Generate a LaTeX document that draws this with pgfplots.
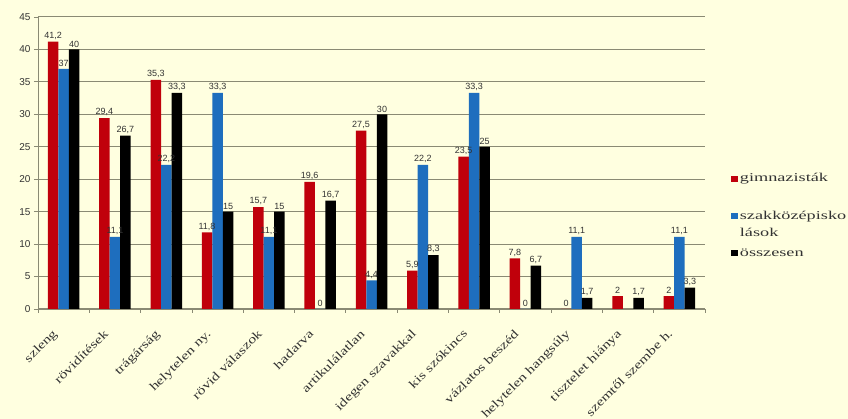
\documentclass[border=0pt]{standalone}
\usepackage{pgfplots}
\pgfplotsset{compat=1.18}
\usepackage{fontspec}
\setmainfont{Liberation Serif}
\newfontfamily\sansf{Liberation Sans}
\newfontfamily\wide[FakeStretch=1.52]{Liberation Serif}
\newfontfamily\widex[FakeStretch=1.32]{Liberation Serif}
\definecolor{bg}{HTML}{FFFFE0}
\definecolor{redc}{HTML}{C0000B}
\definecolor{bluec}{HTML}{1E6EBE}
\definecolor{gridc}{HTML}{8A8A74}
\definecolor{txt}{HTML}{333333}
\begin{document}
\begin{tikzpicture}
\path[use as bounding box, fill=bg] (-38pt,-110pt) rectangle (810pt,309pt);
\begin{axis}[
  at={(0pt,0pt)}, anchor=south west,
  scale only axis, width=667pt, height=292pt,
  ybar=0pt, bar width=10.5pt,
  xmin=-0.5, xmax=12.5, ymin=0, ymax=45,
  ytick={0,5,...,45},
  xtick={-0.5,0.5,1.5,2.5,3.5,4.5,5.5,6.5,7.5,8.5,9.5,10.5,11.5,12.5},
  x tick label as interval,
  xticklabels={szleng,rövidítések,trágárság,helytelen ny.,rövid válaszok,hadarva,artikulálatlan,idegen szavakkal,kis szókincs,vázlatos beszéd,helytelen hangsúly,tisztelet hiánya,szemtől szembe h.},
  axis x line=bottom, axis y line=left,
  axis line style={-, draw=gridc, line width=0.8pt},
  tick align=outside, major tick length=4pt,
  tick style={draw=gridc, line width=0.8pt},
  ymajorgrids, grid style={draw=gridc, line width=1pt},
  /pgf/number format/use comma,
  /pgf/number format/assume math mode=true,
  y tick label style={font=\sansf\fontsize{10}{10}\selectfont, text=txt},
  xticklabel shift=14pt,
  x tick label style={xshift=-12pt, font=\widex\fontsize{12}{12}\selectfont, text=txt, rotate=45, anchor=north east, inner sep=1pt},
  nodes near coords,
  nodes near coords style={font=\sansf\fontsize{9}{9}\selectfont, text=txt, inner sep=2pt},
  legend style={at={(1.034,0.472)}, anchor=north west, draw=none, fill=none,
    font=\wide\fontsize{12}{12}\selectfont, text=txt,
    nodes={inner sep=0pt}, cells={anchor=base west}, row sep=0pt},
]
\addplot[fill=redc, draw=none, legend image code/.code={\fill[redc] (0pt,0pt) rectangle (7pt,6pt);}]
 coordinates {(0,41.2) (1,29.4) (2,35.3) (3,11.8) (4,15.7) (5,19.6) (6,27.5) (7,5.9) (8,23.5) (9,7.8) (10,0) (11,2) (12,2)};
\addlegendentry{\,gimnazisták}
\addplot[fill=bluec, draw=none, legend image code/.code={\fill[bluec] (0pt,0pt) rectangle (7pt,6pt);}]
 coordinates {(0,37) (1,11.1) (2,22.2) (3,33.3) (4,11.1) (5,0) (6,4.4) (7,22.2) (8,33.3) (9,0) (10,11.1) (12,11.1)};
\addlegendentry{\rule{0pt}{36pt}\,szakközépisko}
\addlegendimage{empty legend}
\addlegendentry{\rule{0pt}{16pt}\,lások}
\addplot[fill=black, draw=none, legend image code/.code={\fill[black] (0pt,0pt) rectangle (7pt,6pt);}]
 coordinates {(0,40) (1,26.7) (2,33.3) (3,15) (4,15) (5,16.7) (6,30) (7,8.3) (8,25) (9,6.7) (10,1.7) (11,1.7) (12,3.3)};
\addlegendentry{\rule{0pt}{18pt}\,összesen}
\end{axis}
\end{tikzpicture}
\end{document}
